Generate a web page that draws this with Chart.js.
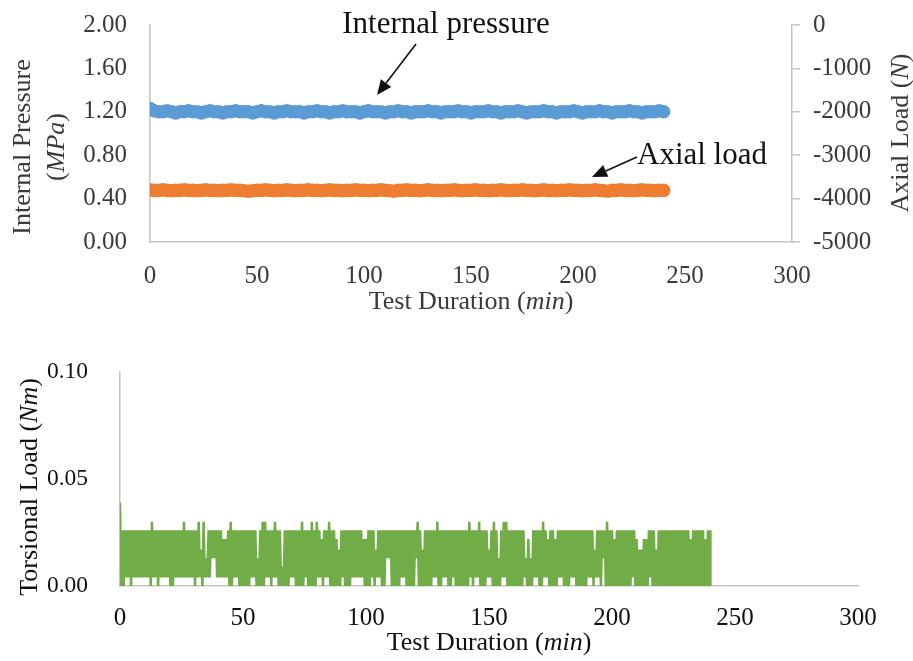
<!DOCTYPE html>
<html>
<head>
<meta charset="utf-8">
<script src="https://cdn.jsdelivr.net/npm/chart.js@4.4.1/dist/chart.umd.min.js"></script>
<style>
  html, body { margin: 0; padding: 0; background: #ffffff; }
  body { width: 913px; height: 661px; position: relative; overflow: hidden; }
  .box { position: absolute; left: 0; width: 913px; }
</style>
</head>
<body>
<div class="box" style="top:0;height:330px"><canvas id="c1"></canvas></div>
<div class="box" style="top:330px;height:331px"><canvas id="c2"></canvas></div>
<script>
// ---------------- DATA ----------------
// Top chart: sampled every 2 minutes, 0..240 min
const pressureTimes = [];
for (let t = 0; t <= 240; t += 2) pressureTimes.push(t);
const internalPressure = [ // MPa
 1.23,1.21,1.20,1.20,1.21,1.20,1.19,1.20,1.20,1.21,
 1.20,1.20,1.19,1.20,1.21,1.20,1.20,1.19,1.20,1.20,
 1.21,1.20,1.20,1.20,1.19,1.20,1.21,1.20,1.20,1.19,
 1.20,1.20,1.21,1.20,1.20,1.20,1.19,1.20,1.20,1.21,
 1.20,1.20,1.19,1.20,1.20,1.21,1.20,1.20,1.20,1.19,
 1.20,1.21,1.20,1.20,1.20,1.19,1.20,1.20,1.21,1.20,
 1.20,1.19,1.20,1.20,1.20,1.21,1.20,1.20,1.19,1.20,
 1.20,1.20,1.21,1.20,1.20,1.19,1.20,1.20,1.20,1.21,
 1.20,1.20,1.19,1.20,1.20,1.20,1.21,1.20,1.19,1.20,
 1.20,1.20,1.21,1.20,1.20,1.19,1.20,1.20,1.20,1.21,
 1.20,1.19,1.20,1.20,1.20,1.21,1.20,1.20,1.19,1.20,
 1.20,1.20,1.21,1.20,1.20,1.19,1.20,1.20,1.20,1.21,1.20];
const axialLoad = [ // N
 -3800,-3810,-3810,-3800,-3810,-3820,-3810,-3810,-3800,-3810,
 -3810,-3820,-3810,-3800,-3810,-3810,-3820,-3810,-3810,-3800,
 -3810,-3810,-3820,-3830,-3820,-3810,-3810,-3800,-3810,-3820,
 -3810,-3810,-3800,-3810,-3820,-3810,-3810,-3800,-3810,-3810,
 -3820,-3810,-3800,-3810,-3810,-3820,-3810,-3810,-3800,-3810,
 -3810,-3820,-3810,-3810,-3800,-3810,-3820,-3830,-3810,-3810,
 -3800,-3810,-3810,-3820,-3810,-3800,-3810,-3810,-3820,-3810,
 -3810,-3800,-3810,-3820,-3810,-3810,-3800,-3810,-3810,-3820,
 -3810,-3810,-3800,-3810,-3820,-3810,-3810,-3800,-3810,-3810,
 -3820,-3810,-3800,-3810,-3810,-3820,-3810,-3810,-3800,-3810,
 -3810,-3820,-3810,-3810,-3800,-3810,-3820,-3830,-3810,-3810,
 -3800,-3810,-3810,-3820,-3810,-3800,-3810,-3810,-3820,-3810,-3810];

// Bottom chart: torsional load, per minute 0..240: peak then trough within each minute
const torqueHigh = [ // Nm
 0.039,0.026,0.026,0.026,0.026,0.026,0.026,0.026,0.026,0.026,
 0.026,0.026,0.026,0.030,0.026,0.026,0.026,0.026,0.026,0.026,
 0.026,0.026,0.026,0.026,0.026,0.026,0.030,0.026,0.026,0.026,
 0.026,0.026,0.030,0.017,0.030,0.013,0.026,0.026,0.026,0.026,
 0.026,0.026,0.022,0.022,0.026,0.030,0.026,0.026,0.026,0.026,
 0.026,0.026,0.026,0.026,0.026,0.026,0.013,0.026,0.030,0.030,
 0.026,0.026,0.026,0.030,0.026,0.026,0.009,0.026,0.026,0.026,
 0.026,0.026,0.026,0.026,0.030,0.026,0.026,0.026,0.030,0.026,
 0.030,0.026,0.022,0.026,0.026,0.030,0.026,0.026,0.022,0.017,
 0.026,0.026,0.026,0.026,0.026,0.026,0.026,0.026,0.026,0.022,
 0.022,0.026,0.026,0.026,0.017,0.026,0.026,0.026,0.026,0.026,
 0.026,0.026,0.026,0.026,0.026,0.026,0.026,0.026,0.026,0.026,
 0.026,0.030,0.026,0.017,0.026,0.026,0.026,0.026,0.026,0.030,
 0.026,0.026,0.026,0.026,0.026,0.026,0.026,0.026,0.026,0.026,
 0.026,0.026,0.030,0.026,0.026,0.026,0.030,0.026,0.026,0.026,
 0.017,0.026,0.030,0.026,0.013,0.026,0.030,0.030,0.026,0.026,
 0.026,0.026,0.026,0.026,0.026,0.013,0.022,0.013,0.026,0.026,
 0.026,0.026,0.030,0.026,0.022,0.026,0.026,0.022,0.026,0.026,
 0.026,0.026,0.026,0.026,0.026,0.026,0.026,0.026,0.026,0.026,
 0.026,0.026,0.026,0.017,0.026,0.026,0.026,0.026,0.030,0.026,
 0.026,0.022,0.026,0.026,0.026,0.026,0.026,0.026,0.026,0.026,
 0.022,0.017,0.017,0.022,0.022,0.026,0.026,0.026,0.017,0.026,
 0.026,0.026,0.026,0.026,0.026,0.026,0.026,0.026,0.026,0.026,
 0.026,0.026,0.022,0.026,0.026,0.026,0.026,0.026,0.022,0.026,
 0.026];
const torqueLow = [ // Nm
 0,0,0.004,0.004,0,0.004,0.004,0.004,0.004,0.004,
 0.004,0.004,0,0.004,0.004,0,0.004,0.004,0.004,0.004,
 0,0,0.004,0.004,0.004,0.004,0.004,0.004,0.004,0.004,
 0,0.004,0.004,0,0.004,0.004,0.004,0.013,0.013,0.004,
 0.004,0.004,0.004,0.004,0,0,0.004,0.004,0,0,
 0,0,0,0.004,0.004,0,0,0,0,0.004,
 0.004,0,0.004,0.004,0,0,0,0,0,0.004,
 0.004,0,0,0,0,0.004,0,0,0,0,
 0.004,0.004,0,0.004,0.004,0,0,0,0,0,
 0.004,0,0,0,0.004,0.004,0.004,0.004,0.004,0,
 0,0,0.004,0,0.004,0.004,0,0,0.013,0.013,
 0,0,0,0,0.004,0.004,0,0,0,0,
 0.013,0,0,0,0,0,0,0.004,0.004,0,
 0,0.004,0.004,0,0,0.004,0,0,0,0,
 0,0,0.004,0,0.004,0.004,0,0,0,0.004,
 0.004,0,0,0,0,0.004,0.004,0,0,0,
 0,0,0,0,0.004,0,0,0,0.004,0.004,
 0,0,0.004,0.004,0,0,0,0,0.004,0.004,
 0,0,0,0.004,0.004,0,0,0,0,0,
 0.004,0.004,0,0.004,0.004,0,0.013,0,0,0,
 0,0,0,0,0,0,0,0,0.004,0,
 0,0,0,0,0,0.004,0,0,0,0,
 0,0,0,0,0,0,0,0,0,0,
 0,0,0,0,0,0,0,0,0,0,
 0];

// Tick labels
const timeTicks = [0, 50, 100, 150, 200, 250, 300];
const pressureTicks = [0.00, 0.40, 0.80, 1.20, 1.60, 2.00];
const axialTicks = [-5000, -4000, -3000, -2000, -1000, 0];
const torqueTicks = [0.00, 0.05, 0.10];

// ---------------- HELPERS ----------------
const SERIF = '"Liberation Serif", "Times New Roman", "DejaVu Serif", serif';
function fnt(size, italic) { return (italic ? 'italic ' : '') + size + 'px ' + SERIF; }

function drawMixed(ctx, parts, x, y, rot, size, color) {
  ctx.save();
  ctx.translate(x, y);
  ctx.rotate(rot);
  ctx.textBaseline = 'middle';
  ctx.textAlign = 'left';
  ctx.fillStyle = color;
  let total = 0;
  parts.forEach(p => { ctx.font = fnt(size, p[1]); total += ctx.measureText(p[0]).width; });
  let cx = -total / 2;
  parts.forEach(p => {
    ctx.font = fnt(size, p[1]);
    ctx.fillText(p[0], cx, 0);
    cx += ctx.measureText(p[0]).width;
  });
  ctx.restore();
}

function arrow(ctx, x1, y1, x2, y2) {
  const ang = Math.atan2(y2 - y1, x2 - x1);
  const L = 15, W = 6.5;
  const bx = x2 - L * Math.cos(ang), by = y2 - L * Math.sin(ang);
  ctx.save();
  ctx.strokeStyle = '#111';
  ctx.fillStyle = '#111';
  ctx.lineWidth = 1.6;
  ctx.beginPath(); ctx.moveTo(x1, y1); ctx.lineTo(bx, by); ctx.stroke();
  ctx.beginPath();
  ctx.moveTo(x2, y2);
  ctx.lineTo(bx + W * Math.sin(ang), by - W * Math.cos(ang));
  ctx.lineTo(bx - W * Math.sin(ang), by + W * Math.cos(ang));
  ctx.closePath(); ctx.fill();
  ctx.restore();
}

function fixTicks(values) { return function (scale) { scale.ticks = values.map(v => ({ value: v })); }; }

const TOPCOL = '#3a3a3a';
const BOTCOL = '#111111';
const AXIS = '#c4c4c4';

// ---------------- TOP CHART ----------------
const topPlugin = {
  id: 'topDeco',
  afterDraw(chart) {
    const ctx = chart.ctx;
    const a = chart.chartArea;
    const midX = (a.left + a.right) / 2;
    drawMixed(ctx, [['Test Duration (', false], ['min', true], [')', false]], midX, 302, 0, 26, TOPCOL);
    drawMixed(ctx, [['Internal Pressure', false]], 23, 147, -Math.PI / 2, 26, TOPCOL);
    drawMixed(ctx, [['(', false], ['MPa', true], [')', false]], 57, 147, -Math.PI / 2, 26, TOPCOL);
    drawMixed(ctx, [['Axial Load (', false], ['N', true], [')', false]], 901, 133, -Math.PI / 2, 26, TOPCOL);
    // annotations
    drawMixed(ctx, [['Internal pressure', false]], 446, 25, 0, 31, '#111');
    arrow(ctx, 416, 44, 377, 95);
    ctx.save();
    ctx.font = fnt(31, false); ctx.fillStyle = '#111'; ctx.textBaseline = 'middle'; ctx.textAlign = 'left';
    ctx.fillText('Axial load', 637, 156);
    ctx.restore();
    arrow(ctx, 637, 157, 592, 177);
  }
};

new Chart(document.getElementById('c1'), {
  type: 'scatter',
  data: {
    datasets: [
      {
        label: 'Internal pressure',
        data: pressureTimes.map((t, i) => ({ x: t, y: internalPressure[i] })),
        yAxisID: 'y',
        backgroundColor: '#5b9bd5', borderColor: '#5b9bd5',
        pointRadius: 6.8, borderWidth: 0, pointHoverRadius: 6.8
      },
      {
        label: 'Axial load',
        data: pressureTimes.map((t, i) => ({ x: t, y: axialLoad[i] })),
        yAxisID: 'y2',
        backgroundColor: '#ed7d31', borderColor: '#ed7d31',
        pointRadius: 6.8, borderWidth: 0, pointHoverRadius: 6.8
      }
    ]
  },
  options: {
    responsive: true, maintainAspectRatio: false, animation: false,
    layout: { padding: { top: 25, left: 0, right: 0, bottom: 0 } },
    plugins: { legend: { display: false }, tooltip: { enabled: false } },
    scales: {
      x: {
        type: 'linear', min: 0, max: 300,
        afterBuildTicks: fixTicks(timeTicks),
        afterFit(s) { s.height = 88; },
        grid: { display: false, drawTicks: false },
        border: { display: true, color: AXIS, width: 1.5 },
        ticks: { padding: 19, color: TOPCOL, font: { family: SERIF, size: 25 }, maxRotation: 0, callback: v => String(v) }
      },
      y: {
        position: 'left', min: 0, max: 2,
        afterBuildTicks: fixTicks(pressureTicks),
        afterFit(s) { s.width = 150; },
        grid: { display: false, drawTicks: true, tickLength: 23 },
        border: { display: true, color: AXIS, width: 1.5 },
        ticks: { padding: 0, color: TOPCOL, font: { family: SERIF, size: 25 }, callback: v => Number(v).toFixed(2) }
      },
      y2: {
        position: 'right', min: -5000, max: 0,
        afterBuildTicks: fixTicks(axialTicks),
        afterFit(s) { s.width = 121; },
        grid: { display: true, drawOnChartArea: false, drawTicks: true, tickLength: 8, color: AXIS, lineWidth: 1.5 },
        border: { display: true, color: AXIS, width: 1.5 },
        ticks: { padding: 13, color: TOPCOL, font: { family: SERIF, size: 25, lineHeight: 0.8 }, callback: v => String(v) }
      }
    }
  },
  plugins: [topPlugin]
});

// ---------------- BOTTOM CHART ----------------
const torqueData = [];
for (let m = 0; m < torqueHigh.length; m++) {
  torqueData.push({ x: m, y: torqueHigh[m] });
  torqueData.push({ x: Math.min(m + 0.5, torqueHigh.length - 1), y: torqueLow[m] });
}

const botPlugin = {
  id: 'botDeco',
  afterDraw(chart) {
    const ctx = chart.ctx;
    const a = chart.chartArea;
    drawMixed(ctx, [['Test Duration (', false], ['min', true], [')', false]], (a.left + a.right) / 2, 313, 0, 26, BOTCOL);
    drawMixed(ctx, [['Torsional Load (', false], ['Nm', true], [')', false]], 30, 157, -Math.PI / 2, 26, BOTCOL);
  }
};

new Chart(document.getElementById('c2'), {
  type: 'scatter',
  data: {
    datasets: [{
      label: 'Torsional load',
      data: torqueData,
      showLine: true,
      borderColor: '#70ad47', backgroundColor: '#70ad47',
      borderWidth: 2.5, pointRadius: 0, pointHoverRadius: 0, tension: 0
    }]
  },
  options: {
    responsive: true, maintainAspectRatio: false, animation: false,
    layout: { padding: { top: 42, left: 0, right: 55, bottom: 0 } },
    plugins: { legend: { display: false }, tooltip: { enabled: false } },
    scales: {
      x: {
        type: 'linear', min: 0, max: 300,
        afterBuildTicks: fixTicks(timeTicks),
        afterFit(s) { s.height = 75; },
        grid: { display: false, drawTicks: false },
        border: { display: true, color: AXIS, width: 1.5 },
        ticks: { padding: 17, color: BOTCOL, font: { family: SERIF, size: 25 }, maxRotation: 0, callback: v => String(v) }
      },
      y: {
        position: 'left', min: 0, max: 0.1,
        afterBuildTicks: fixTicks(torqueTicks),
        afterFit(s) { s.width = 120; },
        grid: { display: false, drawTicks: true, tickLength: 32 },
        border: { display: true, color: AXIS, width: 1.5 },
        ticks: { padding: 0, color: BOTCOL, font: { family: SERIF, size: 23.5 }, callback: v => Number(v).toFixed(2) }
      }
    }
  },
  plugins: [botPlugin]
});
</script>
</body>
</html>
